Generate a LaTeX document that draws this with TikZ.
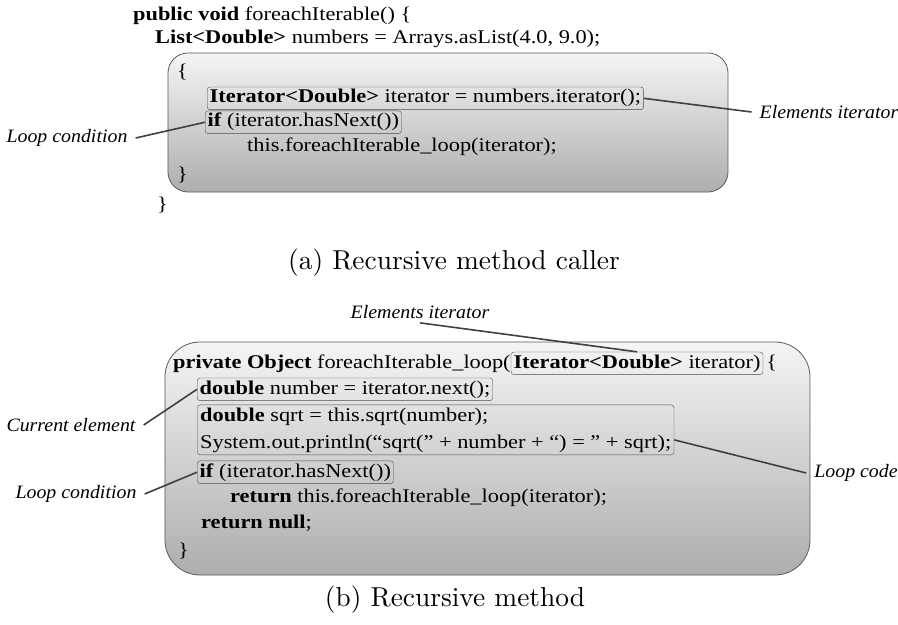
\documentclass[tikz,border=0pt]{standalone}
\usepackage{fontspec}
\newfontfamily\codefont[FakeStretch=1.15]{Liberation Serif}
\newfontfamily\notefont[FakeStretch=1.05]{Liberation Serif}
\usetikzlibrary{positioning,fit}

\begin{document}
\begin{tikzpicture}[x=1bp,y=-1bp]
	\tikzstyle{code} = [font=\codefont\fontsize{19.5}{22}\selectfont,inner sep=0pt,anchor=base west]
	\tikzstyle{part} = [draw=black!70,rounded corners=3bp,inner sep=2.5bp]
	\tikzstyle{block} = [draw=black!65,thick,top color=black!4,bottom color=black!32]
	\tikzstyle{note} = [font=\notefont\itshape\fontsize{19}{22}\selectfont,inner xsep=8bp,inner ysep=4bp]
	\tikzstyle{pointer} = [draw=black!75,line width=1.6bp]
	\tikzstyle{caption} = [font=\fontsize{10}{12}\selectfont,scale=2.75,transform shape]

	\useasboundingbox (0,0) rectangle (898,625);

	% (a) caller
	\node [block,rounded corners=20bp,minimum width=560bp,minimum height=139bp] (callerBox) at (448,122.5) {};
	\node [code] (headA) at (133,21) {\textbf{public void} foreachIterable() \{};
	\node [code] (listA) at (155,44) {\textbf{List<Double>} numbers = Arrays.asList(4.0, 9.0);};
	\node [code] (openA) at (177,78) {\{};
	\node [code,part] (iterA) at (207,103) {\textbf{Iterator<Double>} iterator = numbers.iterator();};
	\node [code,part] (ifA) at (205,127) {\textbf{if} (iterator.hasNext())};
	\node [code] (callA) at (247,152) {this.foreachIterable\_loop(iterator);};
	\node [code] (closeA) at (177,181) {\}};
	\node [code] (endA) at (157,211) {\}};

	\node [note] (condA) at (67,138) {Loop condition};
	\node [note] (elemA) at (829,112) {Elements iterator};
	\draw [pointer] (condA.east) -- (ifA.west);
	\draw [pointer] (elemA.west) -- (iterA.east);

	\node [caption] (capA) at (454,263) {(a) Recursive method caller};

	% (b) recursive method
	\node [block,rounded corners=35bp,minimum width=645bp,minimum height=233bp] (loopBox) at (487.5,458.5) {};
	\node [code] (headB) at (173,368) {\textbf{private Object} foreachIterable\_loop(};
	\node [code,part] (paramB) at (headB.base east) {\textbf{Iterator<Double>} iterator)};
	\node [code,xshift=3bp] (openB) at (paramB.base east) {\{};
	\node [code,part] (numB) at (197,394) {\textbf{double} number = iterator.next();};
	\node [code] (sqrtB) at (200,421) {\textbf{double} sqrt = this.sqrt(number);};
	\node [code] (printB) at (200,448) {System.out.println(“sqrt(” + number + “) = ” + sqrt);};
	\node [part,fit=(sqrtB)(printB)] (bodyB) {};
	\node [code,part] (ifB) at (197,477) {\textbf{if} (iterator.hasNext())};
	\node [code] (retB) at (230,502) {\textbf{return} this.foreachIterable\_loop(iterator);};
	\node [code] (nullB) at (201,528) {\textbf{return null};};
	\node [code] (closeB) at (178,556) {\}};

	\node [note] (elemB) at (420,312) {Elements iterator};
	\node [note] (curB) at (71,425) {Current element};
	\node [note] (condB) at (76,494) {Loop condition};
	\node [note] (codeB) at (856,473) {Loop code};
	\draw [pointer] (elemB.south) -- (paramB.north);
	\draw [pointer] (curB.east) -- (numB.west);
	\draw [pointer] (condB.east) -- (ifB.west);
	\draw [pointer] ([yshift=-10bp]bodyB.east) -- (codeB.west);

	\node [caption] (capB) at (455,600) {(b) Recursive method};
\end{tikzpicture}
\end{document}
